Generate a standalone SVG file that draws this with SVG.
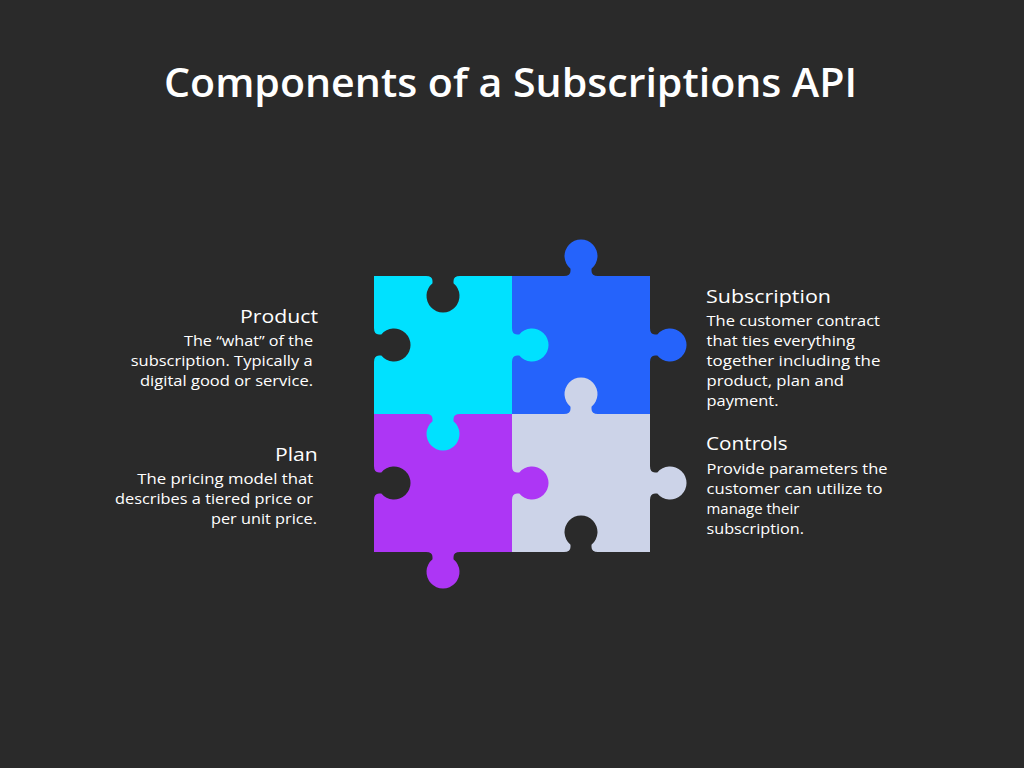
<svg xmlns="http://www.w3.org/2000/svg" xmlns:xlink="http://www.w3.org/1999/xlink" width="1024" height="768" viewBox="0 0 1024 768">
<defs>
<style>
.bg{fill:#2a2a2a}
.cyan{fill:#00e1ff}
.blue{fill:#2563fb}
.purple{fill:#ad36f5}
.gray{fill:#ccd3e8}
.title{font-family:"Open Sans","Liberation Sans",sans-serif;font-weight:600;font-size:40px;fill:#ffffff}
.head{font-family:"Open Sans","Liberation Sans",sans-serif;font-weight:500;font-size:19px;fill:#ffffff}
.body{font-family:"Open Sans","Liberation Sans",sans-serif;font-weight:500;font-size:15px;fill:#ffffff}
</style>
<path id="knob" d="M -17,1 L -17,0 Q -10.5,0 -10.5,-5 L -10.5,-7.3 A 16.5 16.5 0 1 1 10.5,-7.3 L 10.5,-5 Q 10.5,0 17,0 L 17,1 Z"/>
</defs>
<rect class="bg" x="0" y="0" width="1024" height="768"/>
<text class="title" x="164" y="97" textLength="693" lengthAdjust="spacingAndGlyphs">Components of a Subscriptions API</text>

<g id="piece-subscription">
<rect class="blue" x="512" y="276" width="138" height="138"/>
<use xlink:href="#knob" class="blue" transform="translate(581,276)"/>
<use xlink:href="#knob" class="blue" transform="translate(650,345) rotate(90)"/>
</g>
<g id="piece-controls">
<rect class="gray" x="512" y="414" width="138" height="138"/>
<use xlink:href="#knob" class="gray" transform="translate(581,414)"/>
<use xlink:href="#knob" class="gray" transform="translate(650,483) rotate(90)"/>
<use xlink:href="#knob" class="bg" transform="translate(581,552)"/>
</g>
<g id="piece-plan">
<rect class="purple" x="374" y="414" width="138" height="138"/>
<use xlink:href="#knob" class="purple" transform="translate(512,483) rotate(90)"/>
<use xlink:href="#knob" class="purple" transform="translate(443,552) rotate(180)"/>
<use xlink:href="#knob" class="bg" transform="translate(374,483) rotate(90)"/>
</g>
<g id="piece-product">
<rect class="cyan" x="374" y="276" width="138" height="138"/>
<use xlink:href="#knob" class="cyan" transform="translate(512,345) rotate(90)"/>
<use xlink:href="#knob" class="cyan" transform="translate(443,414) rotate(180)"/>
<use xlink:href="#knob" class="bg" transform="translate(443,276) rotate(180)"/>
<use xlink:href="#knob" class="bg" transform="translate(374,345) rotate(90)"/>
</g>

<g id="label-product">
<text class="head" x="240" y="322.5" textLength="78" lengthAdjust="spacingAndGlyphs">Product</text>
<text class="body" x="184" y="345.5" textLength="129" lengthAdjust="spacingAndGlyphs">The “what” of the</text>
<text class="body" x="130.7" y="365.5" textLength="182" lengthAdjust="spacingAndGlyphs">subscription. Typically a</text>
<text class="body" x="140" y="385.5" textLength="173" lengthAdjust="spacingAndGlyphs">digital good or service.</text>
</g>
<g id="label-plan">
<text class="head" x="275" y="460.7" textLength="42.7" lengthAdjust="spacingAndGlyphs">Plan</text>
<text class="body" x="137.3" y="483.5" textLength="176" lengthAdjust="spacingAndGlyphs">The pricing model that</text>
<text class="body" x="115" y="503.5" textLength="198" lengthAdjust="spacingAndGlyphs">describes a tiered price or</text>
<text class="body" x="211" y="523.5" textLength="106" lengthAdjust="spacingAndGlyphs">per unit price.</text>
</g>
<g id="label-subscription">
<text class="head" x="706" y="302.7" textLength="125" lengthAdjust="spacingAndGlyphs">Subscription</text>
<text class="body" x="706.5" y="325.5" textLength="173.5" lengthAdjust="spacingAndGlyphs">The customer contract</text>
<text class="body" x="706.5" y="345.5" textLength="148.5" lengthAdjust="spacingAndGlyphs">that ties everything</text>
<text class="body" x="706.5" y="365.5" textLength="174" lengthAdjust="spacingAndGlyphs">together including the</text>
<text class="body" x="706.5" y="385.5" textLength="137.5" lengthAdjust="spacingAndGlyphs">product, plan and</text>
<text class="body" x="706.5" y="405.5" textLength="72" lengthAdjust="spacingAndGlyphs">payment.</text>
</g>
<g id="label-controls">
<text class="head" x="706" y="450" textLength="81.7" lengthAdjust="spacingAndGlyphs">Controls</text>
<text class="body" x="706.5" y="473.5" textLength="181" lengthAdjust="spacingAndGlyphs">Provide parameters the</text>
<text class="body" x="706.5" y="493.5" textLength="176" lengthAdjust="spacingAndGlyphs">customer can utilize to</text>
<text class="body" x="706.5" y="513.5" textLength="92.8" lengthAdjust="spacingAndGlyphs">manage their</text>
<text class="body" x="706.5" y="533.5" textLength="97.5" lengthAdjust="spacingAndGlyphs">subscription.</text>
</g>
</svg>
